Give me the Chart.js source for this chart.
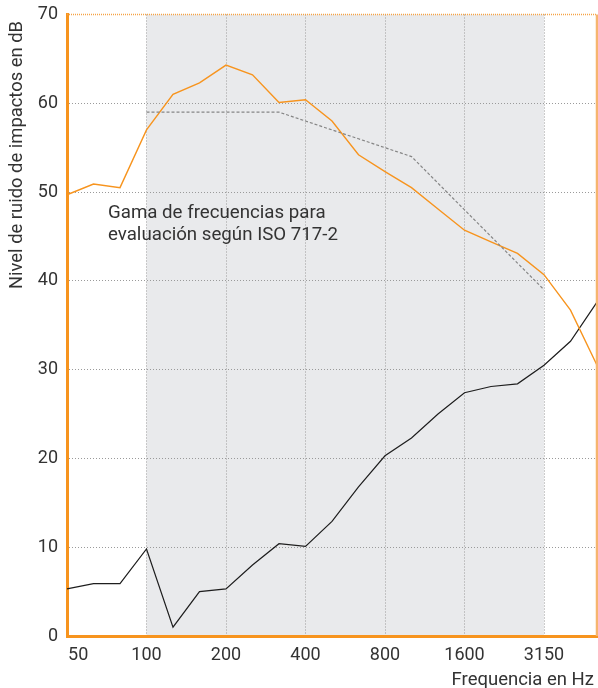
<!DOCTYPE html>
<html>
<head>
<meta charset="utf-8">
<script src="https://cdn.jsdelivr.net/npm/chart.js@4.4.0/dist/chart.umd.min.js"></script>
<style>
  html, body { margin: 0; padding: 0; background: #fff; }
  #wrap { width: 598px; height: 688px; position: relative; }
</style>
</head>
<body>
<div id="wrap"><canvas id="chart"></canvas></div>
<script>
// third-octave bands, Hz
const bands = ['50', '63', '80', '100', '125', '160', '200', '250', '315', '400', '500',
    '630', '800', '1000', '1250', '1600', '2000', '2500', '3150', '4000', '5000'];
const tickLabels = ['50', '100', '200', '400', '800', '1600', '3150'];
const evalRange = ['100', '3150'];
const yTicks = [0, 10, 20, 30, 40, 50, 60, 70];

// orange: bare floor, black: with covering, dashed: shifted ISO 717-2 reference
const bareFloor = [49.7, 50.9, 50.5, 57.0, 61.0, 62.3, 64.3, 63.2, 60.1, 60.4, 58.0,
    54.2, 52.3, 50.5, 48.1, 45.7, 44.4, 43.1, 40.7, 36.7, 30.5];
const withCovering = [5.3, 5.9, 5.9, 9.8, 1.0, 5.0, 5.3, 8.0, 10.4, 10.1, 12.9,
    16.8, 20.3, 22.3, 25.0, 27.4, 28.1, 28.4, 30.5, 33.2, 37.6];
const referenceCurve = [null, null, null, 59, 59, 59, 59, 59, 59, 58, 57,
    56, 55, 54, 51, 48, 45, 42, 39, null, null];

const FONT = "Roboto, 'Liberation Sans', sans-serif";
const ORANGE = '#f7941e';
const TEXT = '#333333';

const framePlugin = {
    id: 'frame',
    beforeDraw(chart) {
        const {ctx, chartArea, scales: {x}} = chart;
        const x0 = x.getPixelForValue(bands.indexOf(evalRange[0]));
        const x1 = x.getPixelForValue(bands.indexOf(evalRange[1]));
        ctx.save();
        ctx.fillStyle = '#e9eaec';
        ctx.fillRect(x0, chartArea.top, x1 - x0, chartArea.bottom - chartArea.top);
        ctx.restore();
    },
    afterDraw(chart) {
        const {ctx, chartArea} = chart;
        ctx.save();
        // top border (dotted) and right border
        ctx.strokeStyle = '#f5a447';
        ctx.lineWidth = 1.5;
        ctx.setLineDash([1, 1]);
        ctx.beginPath();
        ctx.moveTo(chartArea.left, chartArea.top);
        ctx.lineTo(chartArea.right, chartArea.top);
        ctx.stroke();
        ctx.setLineDash([]);
        ctx.strokeStyle = '#f6b56e';
        ctx.lineWidth = 2.5;
        ctx.beginPath();
        ctx.moveTo(chartArea.right, chartArea.top);
        ctx.lineTo(chartArea.right, chartArea.bottom);
        ctx.stroke();

        ctx.fillStyle = TEXT;
        ctx.textBaseline = 'middle';
        ctx.textAlign = 'left';
        ctx.font = '18.7px ' + FONT;
        ctx.fillText('Gama de frecuencias para', 108, 213);
        ctx.fillText('evaluación según ISO 717-2', 108, 235);

        ctx.textAlign = 'right';
        ctx.font = '18.5px ' + FONT;
        ctx.fillText('Frequencia en Hz', 594, 680);

        ctx.translate(17, 155);
        ctx.rotate(-Math.PI / 2);
        ctx.textAlign = 'center';
        ctx.font = '18.4px ' + FONT;
        ctx.fillText('Nivel de ruido de impactos en dB', 0, 0);
        ctx.restore();
    }
};

new Chart(document.getElementById('chart'), {
    type: 'line',
    data: {
        labels: bands,
        datasets: [
            {
                label: 'Referencia',
                data: referenceCurve,
                borderColor: '#858585',
                borderWidth: 1.2,
                borderDash: [3, 2],
                pointRadius: 0,
                tension: 0,
                spanGaps: false
            },
            {
                label: 'Forjado',
                data: bareFloor,
                borderColor: ORANGE,
                borderWidth: 1.4,
                pointRadius: 0,
                tension: 0
            },
            {
                label: 'Con revestimiento',
                data: withCovering,
                borderColor: '#1e1e1e',
                borderWidth: 1.2,
                pointRadius: 0,
                tension: 0
            }
        ]
    },
    options: {
        responsive: true,
        maintainAspectRatio: false,
        animation: false,
        layout: {padding: {top: 14.5, right: 1, bottom: 0, left: 0}},
        plugins: {
            legend: {display: false},
            tooltip: {enabled: false}
        },
        scales: {
            x: {
                type: 'category',
                offset: false,
                grid: {
                    drawTicks: false,
                    lineWidth: 1,
                    color: (c) => {
                        const l = bands[c.index];
                        return (c.index > 0 && tickLabels.includes(l)) ? '#9a9a9a' : 'rgba(0,0,0,0)';
                    }
                },
                border: {color: ORANGE, width: 3, dash: [1, 2]},
                ticks: {
                    autoSkip: false,
                    maxRotation: 0,
                    padding: 9,
                    color: TEXT,
                    font: {family: FONT, size: 18},
                    callback: function (val, i) {
                        const l = bands[i];
                        if (!tickLabels.includes(l)) return '';
                        return i === 0 ? '     ' + l : l;
                    }
                },
                afterFit(s) {
                    s.height = 52;
                    s.paddingLeft = 0;
                    s.paddingRight = 0;
                }
            },
            y: {
                min: 0,
                max: 70,
                afterBuildTicks(s) {
                    s.ticks = yTicks.map(v => ({value: v}));
                },
                grid: {
                    drawTicks: false,
                    lineWidth: 1,
                    color: (c) => (c.tick && c.tick.value > 0 && c.tick.value < 70) ? '#9a9a9a' : 'rgba(0,0,0,0)'
                },
                border: {color: ORANGE, width: 3, dash: [1, 2]},
                ticks: {
                    padding: 9,
                    color: TEXT,
                    font: {family: FONT, size: 18}
                },
                afterFit(s) {
                    s.width = 67;
                    s.paddingTop = 0;
                    s.paddingBottom = 0;
                }
            }
        }
    },
    plugins: [framePlugin]
});
</script>
</body>
</html>
